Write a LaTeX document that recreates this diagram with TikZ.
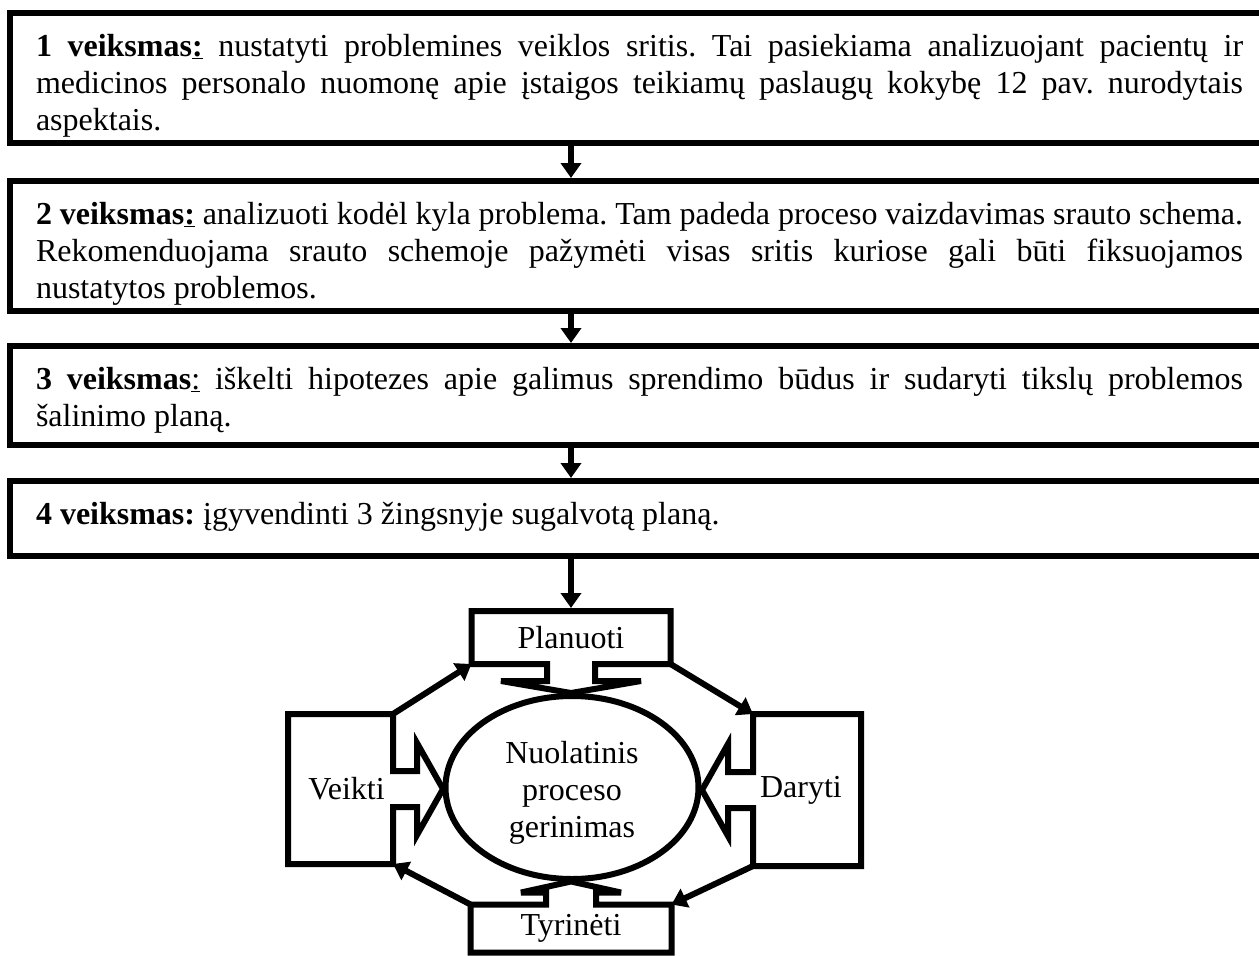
\documentclass[tikz,border=0pt]{standalone}
\usepackage{fontspec}
\setmainfont{Liberation Serif}
\usetikzlibrary{shapes.geometric, positioning, arrows.meta, calc}

\newcommand{\pdcafont}{\fontsize{32pt}{37pt}\selectfont}
\frenchspacing

\begin{document}
\begin{tikzpicture}[
    x=1pt, y=-1pt,
    line width=6pt,
    stepBox/.style={rectangle, draw, minimum width=1280pt, outer sep=0pt},
    stepText/.style={anchor=base west, inner sep=0pt, text width=1207pt, align=justify, font=\pdcafont},
    cycBox/.style={rectangle, inner sep=0pt, outer sep=0pt, font=\pdcafont},
    cycLine/.style={draw, miter limit=5},
    cycEllipse/.style={ellipse, draw, minimum width=253pt, minimum height=183pt, inner sep=0pt},
    cycText/.style={align=center, inner sep=0pt, font=\pdcafont},
    flowArrow/.style={-{Triangle[length=15pt, width=20pt]}}
]
    \useasboundingbox (0,0) rectangle (1259,956);

    % Step boxes
    \node[stepBox, minimum height=130pt] (s1) at (650,78) {};
    \node[stepBox, minimum height=130pt] (s2) at (650,246) {};
    \node[stepBox, minimum height=99pt] (s3) at (650,395.5) {};
    \node[stepBox, minimum height=75pt] (s4) at (650,518.5) {};

    % Step texts
    \node[stepText] (t1) at ($(s1.north west)+(23,43)$) {\textbf{1 veiksmas\underline{:}} nustatyti problemines veiklos sritis. Tai pasiekiama analizuojant pacientų ir\linebreak medicinos personalo nuomonę apie įstaigos teikiamų paslaugų kokybę 12 pav. nurodytais\linebreak aspektais.};
    \node[stepText] (t2) at ($(s2.north west)+(23,43)$) {\textbf{2 veiksmas\underline{:}} analizuoti kodėl kyla problema. Tam padeda proceso vaizdavimas srauto schema.\linebreak Rekomenduojama srauto schemoje pažymėti visas sritis kuriose gali būti fiksuojamos\linebreak nustatytos problemos.};
    \node[stepText] (t3) at ($(s3.north west)+(23,43)$) {\textbf{3 veiksmas}\underline{:} iškelti hipotezes apie galimus sprendimo būdus ir sudaryti tikslų problemos\linebreak šalinimo planą.};
    \node[stepText] (t4) at ($(s4.north west)+(23,43)$) {\textbf{4 veiksmas:} įgyvendinti 3 žingsnyje sugalvotą planą.};

    % Cycle
    \node[cycEllipse] (cyc) at (572,787.5) {};
    \node[cycText] (cycT) at ($(cyc)+(0,5)$) {Nuolatinis\\proceso\\gerinimas};
    \node[cycBox, minimum width=199pt, minimum height=53pt] (pl) at (571,637.5) {Planuoti};
    \node[cycBox, minimum width=108pt, minimum height=152pt] (da) at (807,790) {\hspace*{-12pt}Daryti};
    \node[cycBox, minimum width=201pt, minimum height=48pt] (ty) at (571,928.5) {Tyrinėti};
    \node[cycBox, minimum width=105pt, minimum height=150pt] (ve) at (340.5,789) {\hspace*{12pt}Veikti};

    % Box outlines with notches
    \draw[cycLine] (pl.south west) |- (pl.north east) -- (pl.south east)
        -- ($(pl.south)+(24,0)$) -- ++(0,17) -- ++(46,0) -- ($(pl.south)+(0,29)$)
        -- ($(pl.south)+(-70,17)$) -- ++(46,0) -- ++(0,-17) -- cycle;
    \draw[cycLine] (da.north west) -| (da.south east) -- (da.south west)
        -- ($(da.west)+(0,18)$) -- ++(-25,0) -- ++(0,28) -- ($(da.west)+(-51,0)$)
        -- ($(da.west)+(-25,-46)$) -- ++(0,28) -- ++(25,0) -- cycle;
    \draw[cycLine] (ty.north west) |- (ty.south east) -- (ty.north east)
        -- ($(ty.north)+(25,0)$) -- ++(0,-12) -- ++(25,0) -- ($(ty.north)+(0,-23)$)
        -- ($(ty.north)+(-50,-12)$) -- ++(25,0) -- ++(0,12) -- cycle;
    \draw[cycLine] (ve.north east) -| (ve.south west) -- (ve.south east)
        -- ($(ve.east)+(0,18)$) -- ++(24,0) -- ++(0,28) -- ($(ve.east)+(50,0)$)
        -- ($(ve.east)+(24,-46)$) -- ++(0,28) -- ++(-24,0) -- cycle;

    % Flow arrows
    \draw[flowArrow, shorten >=3pt] (s1.south -| pl.north) -- (s2.north -| pl.north);
    \draw[flowArrow, shorten >=3pt] (s2.south -| pl.north) -- (s3.north -| pl.north);
    \draw[flowArrow, shorten >=3pt] (s3.south -| pl.north) -- (s4.north -| pl.north);
    \draw[flowArrow, shorten >=3pt] (s4.south -| pl.north) -- (pl.north);

    % Cycle arrows
    \draw[flowArrow] (ve.north east) -- (pl.south west);
    \draw[flowArrow] (pl.south east) -- (da.north west);
    \draw[flowArrow] (da.south west) -- (ty.north east);
    \draw[flowArrow] (ty.north west) -- (ve.south east);

\end{tikzpicture}
\end{document}
